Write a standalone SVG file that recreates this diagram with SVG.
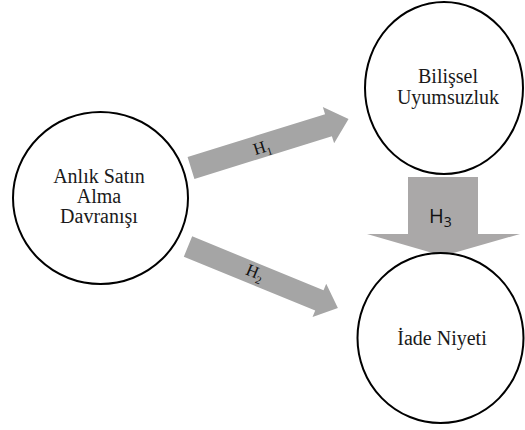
<svg xmlns="http://www.w3.org/2000/svg" width="525" height="430" viewBox="0 0 525 430">
  <style>
    .node { fill: #ffffff; stroke: #000000; stroke-width: 2; }
    .label { font-family: 'Liberation Serif', 'DejaVu Serif', serif; font-size: 20px; fill: #1a1a1a; text-anchor: middle; }
    .arrow { fill: #a5a5a5; stroke: none; }
    .arrow3 { fill: #aaa8a8; stroke: none; }
    .hyp { font-family: 'Liberation Serif', 'DejaVu Serif', serif; font-size: 17px; fill: #111111; }
    .hyp3 { font-family: 'Open Sans', 'Liberation Sans', sans-serif; font-size: 20px; fill: #111111; }
  </style>
  <rect width="525" height="430" fill="#ffffff"/>

  <g id="connectors">
    <!-- H1: Anlık Satın Alma Davranışı -> Bilişsel Uyumsuzluk -->
    <g id="h1" transform="translate(191,168) rotate(-17.3)">
      <path class="arrow" d="M0,-11.5 L144,-11.5 L144,-19 L165,0 L144,19 L144,11.5 L0,11.5 Z"/>
      <text class="hyp" x="65" y="7">H<tspan font-size="11" dy="4">1</tspan></text>
    </g>
    <!-- H2: Anlık Satın Alma Davranışı -> İade Niyeti -->
    <g id="h2" transform="translate(188,246.5) rotate(22.3)">
      <path class="arrow" d="M0,-11 L142,-11 L142,-18 L162,0 L142,18 L142,11 L0,11 Z"/>
      <text class="hyp" x="63" y="4">H<tspan font-size="11" dy="4">2</tspan></text>
    </g>
    <!-- H3: Bilişsel Uyumsuzluk -> İade Niyeti -->
    <g id="h3">
      <path class="arrow3" d="M408,177 L478,177 L478,234 L520,234 L443,256 L367,234 L408,234 Z"/>
      <text class="hyp3" x="429" y="223">H<tspan font-size="14" dy="4">3</tspan></text>
    </g>
  </g>

  <g id="node-anlik">
    <ellipse class="node" cx="100.5" cy="198" rx="87.5" ry="86"/>
    <text class="label" x="99" y="183">Anlık Satın</text>
    <text class="label" x="99" y="203">Alma</text>
    <text class="label" x="99" y="223">Davranışı</text>
  </g>

  <g id="node-bilissel">
    <ellipse class="node" cx="444" cy="88" rx="79" ry="86"/>
    <text class="label" x="448" y="83">Bilişsel</text>
    <text class="label" x="448" y="104">Uyumsuzluk</text>
  </g>

  <g id="node-iade">
    <ellipse class="node" cx="440.5" cy="338" rx="83" ry="85"/>
    <text class="label" x="442" y="345">İade Niyeti</text>
  </g>
</svg>
